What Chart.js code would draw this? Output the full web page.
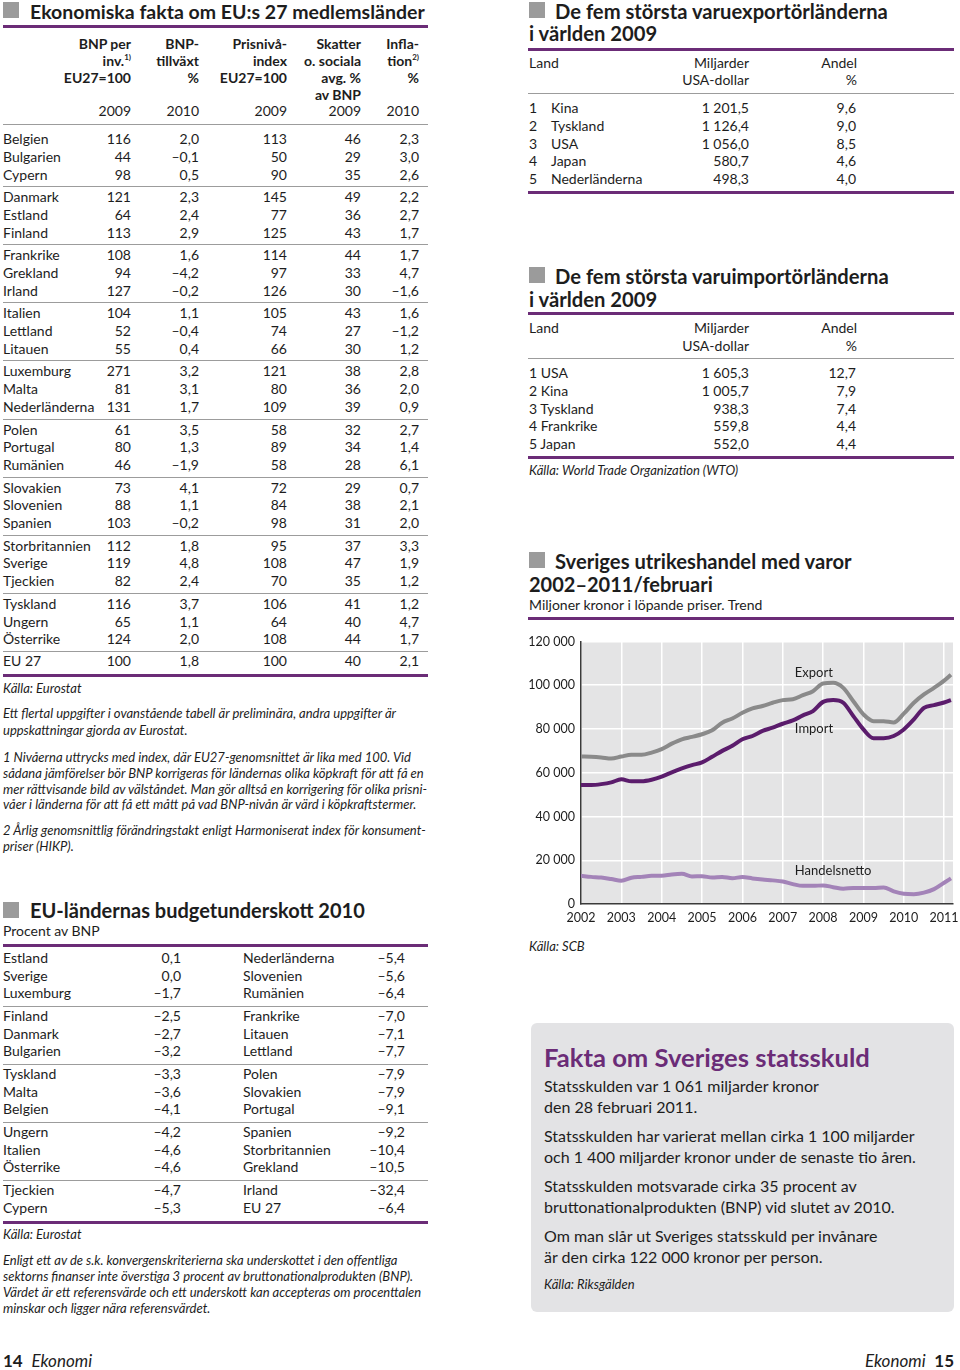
<!DOCTYPE html>
<html>
<head>
<meta charset="utf-8">
<script src="https://cdn.jsdelivr.net/npm/chart.js@4.4.1/dist/chart.umd.min.js"></script>
<style>
body { margin: 0; background: #fff; }
#page { position: relative; width: 960px; height: 1370px; overflow: hidden; font-family: Lato, "Noto Sans", sans-serif; font-size: 14px; color: #1d1d1d; }
.t { position: absolute; white-space: nowrap; }
.b { font-weight: bold; }
.i { font-style: italic; }
.hr { position: absolute; height: 1px; background: #9c9c9c; }
.pr { position: absolute; height: 3px; background: #6b2c77; }
.sq { position: absolute; width: 16px; height: 16px; background: #9b9b9b; }
sup { font-size: 8px; vertical-align: 6px; line-height: 0; }
#box { position: absolute; left: 531px; top: 1023px; width: 423px; height: 289px; background: #e3e3e5; border-radius: 6px; }
#chartWrap { position: absolute; left: 528px; top: 628px; width: 432px; height: 300px; }
</style>
</head>
<body>
<div id="page">
  <div id="box"></div>
  <div id="chartWrap"><canvas id="tradeChart"></canvas></div>
</div>
<script>
// ---- EU member table (2009/2010) ----
const countries = ["Belgien", "Bulgarien", "Cypern", "Danmark", "Estland", "Finland", "Frankrike", "Grekland", "Irland",
  "Italien", "Lettland", "Litauen", "Luxemburg", "Malta", "Nederländerna", "Polen", "Portugal", "Rumänien",
  "Slovakien", "Slovenien", "Spanien", "Storbritannien", "Sverige", "Tjeckien", "Tyskland", "Ungern", "Österrike", "EU 27"];
const bnpPerInv = [116, 44, 98, 121, 64, 113, 108, 94, 127, 104, 52, 55, 271, 81, 131, 61, 80, 46, 73, 88, 103, 112, 119, 82, 116, 65, 124, 100];
const bnpGrowth = [2.0, -0.1, 0.5, 2.3, 2.4, 2.9, 1.6, -4.2, -0.2, 1.1, -0.4, 0.4, 3.2, 3.1, 1.7, 3.5, 1.3, -1.9, 4.1, 1.1, -0.2, 1.8, 4.8, 2.4, 3.7, 1.1, 2.0, 1.8];
const priceIndex = [113, 50, 90, 145, 77, 125, 114, 97, 126, 105, 74, 66, 121, 80, 109, 58, 89, 58, 72, 84, 98, 95, 108, 70, 106, 64, 108, 100];
const taxShare = [46, 29, 35, 49, 36, 43, 44, 33, 30, 43, 27, 30, 38, 36, 39, 32, 34, 28, 29, 38, 31, 37, 47, 35, 41, 40, 44, 40];
const inflation = [2.3, 3.0, 2.6, 2.2, 2.7, 1.7, 1.7, 4.7, -1.6, 1.6, -1.2, 1.2, 2.8, 2.0, 0.9, 2.7, 1.4, 6.1, 0.7, 2.1, 2.0, 3.3, 1.9, 1.2, 1.2, 4.7, 1.7, 2.1];

// ---- Budget deficit 2010 ----
const budgetLeftNames = ["Estland", "Sverige", "Luxemburg", "Finland", "Danmark", "Bulgarien", "Tyskland", "Malta", "Belgien", "Ungern", "Italien", "Österrike", "Tjeckien", "Cypern"];
const budgetLeftValues = [0.1, 0.0, -1.7, -2.5, -2.7, -3.2, -3.3, -3.6, -4.1, -4.2, -4.6, -4.6, -4.7, -5.3];
const budgetRightNames = ["Nederländerna", "Slovenien", "Rumänien", "Frankrike", "Litauen", "Lettland", "Polen", "Slovakien", "Portugal", "Spanien", "Storbritannien", "Grekland", "Irland", "EU 27"];
const budgetRightValues = [-5.4, -5.6, -6.4, -7.0, -7.1, -7.7, -7.9, -7.9, -9.1, -9.2, -10.4, -10.5, -32.4, -6.4];

// ---- Top five exporters / importers 2009 ----
const exportLand = ["Kina", "Tyskland", "USA", "Japan", "Nederländerna"];
const exportValue = [1201.5, 1126.4, 1056.0, 580.7, 498.3];
const exportShare = [9.6, 9.0, 8.5, 4.6, 4.0];
const importLand = ["USA", "Kina", "Tyskland", "Frankrike", "Japan"];
const importValue = [1605.3, 1005.7, 938.3, 559.8, 552.0];
const importShare = [12.7, 7.9, 7.4, 4.4, 4.4];

// ---- Swedish foreign trade, trend, MSEK (quarterly readings) ----
const tradeX = [2002, 2002.25, 2002.5, 2002.75, 2003, 2003.25, 2003.5, 2003.75, 2004, 2004.25, 2004.5, 2004.75,
  2005, 2005.25, 2005.5, 2005.75, 2006, 2006.25, 2006.5, 2006.75, 2007, 2007.25, 2007.5, 2007.75,
  2008, 2008.25, 2008.5, 2008.75, 2009, 2009.25, 2009.5, 2009.75, 2010, 2010.25, 2010.5, 2010.75, 2011, 2011.17];
const exportSeries = [67400, 67300, 67000, 66500, 67400, 68200, 68200, 69200, 70800, 73300, 75300, 76400,
  77600, 79400, 82900, 84800, 87400, 89400, 90500, 92000, 93200, 93600, 95500, 97300,
  100800, 101100, 98800, 92700, 86700, 83600, 83600, 83000, 87000, 92000, 95800, 98800, 102100, 104800];
const importSeries = [54400, 54400, 54800, 55600, 57000, 56100, 56100, 56800, 58200, 60200, 62000, 63500,
  64700, 67300, 70000, 72300, 75300, 76800, 79100, 80600, 82400, 83900, 86200, 88200,
  92400, 93300, 92000, 85900, 79800, 75800, 75800, 76800, 79800, 84400, 89700, 90900, 92100, 93200];
const nettoSeries = [12900, 12400, 12100, 11400, 10600, 12000, 12400, 12900, 12900, 13500, 13800, 12600,
  12700, 12100, 12400, 11800, 12300, 11700, 11200, 10800, 10300, 9100, 8300, 8300,
  8500, 7700, 7000, 7300, 7300, 7300, 7600, 5800, 4700, 4500, 5200, 6800, 9700, 11700];
const yTicks = [0, 20000, 40000, 60000, 80000, 100000, 120000];

const page = document.getElementById("page");

function fmt(v, dec) {
  const s = Math.abs(v).toFixed(dec).split(".");
  const whole = s[0].replace(/\B(?=(\d{3})+(?!\d))/g, " ");
  return (v < 0 ? "–" : "") + whole + (dec ? "," + s[1] : "");
}

// place text with its vertical centre at y; align "r" means x is the right edge
function put(x, y, html, cls, align, size) {
  const fs = size || 14;
  const lh = Math.max(18, Math.round(fs * 1.1));
  const d = document.createElement("div");
  d.className = "t " + (cls || "");
  d.innerHTML = html;
  d.style.fontSize = fs + "px";
  d.style.lineHeight = lh + "px";
  d.style.top = Math.max(0, y - lh / 2) + "px";
  if (align === "r") d.style.right = (960 - x) + "px";
  else d.style.left = x + "px";
  page.appendChild(d);
  return d;
}
function rule(x1, x2, y, purple) {
  const d = document.createElement("div");
  d.className = purple ? "pr" : "hr";
  d.style.left = x1 + "px";
  d.style.width = (x2 - x1) + "px";
  d.style.top = (purple ? y - 1 : y) + "px";
  page.appendChild(d);
}
function square(x, y) {
  const d = document.createElement("div");
  d.className = "sq";
  d.style.left = x + "px";
  d.style.top = y + "px";
  page.appendChild(d);
}

// ===== Left: Ekonomiska fakta =====
square(3, 2);
put(30, 11, "Ekonomiska fakta om EU:s 27 medlemsländer", "b", null, 19.5);
rule(3, 428, 26, true);

const colRight = [131, 199, 287, 361, 419];
const heads = [
  ["BNP per", "inv.<sup>1)</sup>", "EU27=100"],
  ["BNP-", "tillväxt", "%"],
  ["Prisnivå-", "index", "EU27=100"],
  ["Skatter", "o. sociala", "avg. %", "av BNP"],
  ["Infla-", "tion<sup>2)</sup>", "%"]
];
const headYears = ["2009", "2010", "2009", "2009", "2010"];
heads.forEach((lines, c) => {
  lines.forEach((txt, k) => put(colRight[c], 44 + k * 17, txt, "b", "r"));
  put(colRight[c], 111, headYears[c], "", "r");
});
rule(3, 428, 124, false);

countries.forEach((name, i) => {
  const g = Math.floor(i / 3), r = i % 3;
  const y = i < 27 ? 139 + g * 58.1 + r * 17.75 : 661;
  put(3, y, name);
  put(colRight[0], y, fmt(bnpPerInv[i], 0), "", "r");
  put(colRight[1], y, fmt(bnpGrowth[i], 1), "", "r");
  put(colRight[2], y, fmt(priceIndex[i], 0), "", "r");
  put(colRight[3], y, fmt(taxShare[i], 0), "", "r");
  put(colRight[4], y, fmt(inflation[i], 1), "", "r");
});
for (let g = 1; g <= 9; g++) rule(3, 428, Math.round(139 + g * 58.1 - 11), false);
rule(3, 428, 675, true);
put(3, 688, "Källa: Eurostat", "i", null, 13);

const notes = [
  [713, "Ett flertal uppgifter i ovanstående tabell är preliminära, andra uppgifter är"],
  [730, "uppskattningar gjorda av Eurostat."],
  [757, "1 Nivåerna uttrycks med index, där EU27-genomsnittet är lika med 100. Vid"],
  [773, "sådana jämförelser bör BNP korrigeras för ländernas olika köpkraft för att få en"],
  [789, "mer rättvisande bild av välståndet. Man gör alltså en korrigering för olika prisni-"],
  [804, "våer i länderna för att få ett mått på vad BNP-nivån är värd i köpkraftstermer."],
  [830, "2 Årlig genomsnittlig förändringstakt enligt Harmoniserat index för konsument-"],
  [846, "priser (HIKP)."]
];
notes.forEach(n => put(3, n[0], n[1], "i", null, 13));

// ===== Left: budgetunderskott =====
square(3, 902);
put(30, 910, "EU-ländernas budgetunderskott 2010", "b", null, 20);
put(3, 931, "Procent av BNP");
rule(3, 428, 945, true);
budgetLeftNames.forEach((name, i) => {
  const g = Math.floor(i / 3), r = i % 3;
  const y = 958 + g * 58 + r * 17.7;
  put(3, y, name);
  put(181, y, fmt(budgetLeftValues[i], 1), "", "r");
  put(243, y, budgetRightNames[i]);
  put(405, y, fmt(budgetRightValues[i], 1), "", "r");
});
for (let g = 1; g <= 4; g++) rule(3, 428, Math.round(958 + g * 58 - 10), false);
rule(3, 428, 1222, true);
put(3, 1234, "Källa: Eurostat", "i", null, 13);
const budgetNotes = [
  [1260, "Enligt ett av de s.k. konvergenskriterierna ska underskottet i den offentliga"],
  [1276, "sektorns finanser inte överstiga 3 procent av bruttonationalprodukten (BNP)."],
  [1292, "Värdet är ett referensvärde och ett underskott kan accepteras om procenttalen"],
  [1308, "minskar och ligger nära referensvärdet."]
];
budgetNotes.forEach(n => put(3, n[0], n[1], "i", null, 13));

put(3, 1360, "<b>14</b>&nbsp; <i>Ekonomi</i>", "", null, 17);
put(954, 1360, "<i>Ekonomi</i>&nbsp; <b>15</b>", "", "r", 17);

// ===== Right: exporters =====
square(529, 2);
put(555, 11, "De fem största varuexportörländerna", "b", null, 20.2);
put(529, 33, "i världen 2009", "b", null, 20.2);
rule(528, 954, 49, true);
put(529, 63, "Land");
put(749, 63, "Miljarder", "", "r");
put(749, 80, "USA-dollar", "", "r");
put(857, 63, "Andel", "", "r");
put(857, 80, "%", "", "r");
rule(528, 954, 93, false);
exportLand.forEach((name, i) => {
  const y = 108 + i * 17.75;
  put(529, y, String(i + 1));
  put(551, y, name);
  put(749, y, fmt(exportValue[i], 1), "", "r");
  put(856, y, fmt(exportShare[i], 1), "", "r");
});
rule(528, 954, 192, true);

// ===== Right: importers =====
square(529, 267);
put(555, 276, "De fem största varuimportörländerna", "b", null, 20.2);
put(529, 299, "i världen 2009", "b", null, 20.2);
rule(528, 954, 313, true);
put(529, 328, "Land");
put(749, 328, "Miljarder", "", "r");
put(749, 346, "USA-dollar", "", "r");
put(857, 328, "Andel", "", "r");
put(857, 346, "%", "", "r");
rule(528, 954, 358, false);
importLand.forEach((name, i) => {
  const y = 373 + i * 17.75;
  put(529, y, (i + 1) + " " + name);
  put(749, y, fmt(importValue[i], 1), "", "r");
  put(856, y, fmt(importShare[i], 1), "", "r");
});
rule(528, 954, 457, true);
put(529, 470, "Källa: World Trade Organization (WTO)", "i", null, 13);

// ===== Right: chart heading =====
square(529, 552);
put(555, 561, "Sveriges utrikeshandel med varor", "b", null, 20.2);
put(529, 584, "2002–2011/februari", "b", null, 20);
put(529, 605, "Miljoner kronor i löpande priser. Trend");
rule(528, 954, 618, true);
put(529, 946, "Källa: SCB", "i", null, 13);

// ===== Fakta box =====
put(544, 1057, "Fakta om Sveriges statsskuld", "b", null, 25.6).style.color = "#6b2c77";
const facts = [
  [1086, "Statsskulden var 1 061 miljarder kronor"],
  [1107, "den 28 februari 2011."],
  [1136, "Statsskulden har varierat mellan cirka 1 100 miljarder"],
  [1157, "och 1 400 miljarder kronor under de senaste tio åren."],
  [1186, "Statsskulden motsvarade cirka 35 procent av"],
  [1207, "bruttonationalprodukten (BNP) vid slutet av 2010."],
  [1236, "Om man slår ut Sveriges statsskuld per invånare"],
  [1257, "är den cirka 122 000 kronor per person."]
];
facts.forEach(f => put(544, f[0], f[1], "", null, 16));
put(544, 1284, "Källa: Riksgälden", "i", null, 13);

// ===== Chart =====
const seriesLabels = [
  { text: "Export", x: 2007.3, y: 105900 },
  { text: "Import", x: 2007.3, y: 80000 },
  { text: "Handelsnetto", x: 2007.3, y: 15000 }
];

const plotBackground = {
  id: "plotBackground",
  beforeDraw(chart) {
    const { ctx, chartArea: a } = chart;
    ctx.save();
    ctx.fillStyle = "#e4e4e5";
    ctx.fillRect(a.left, a.top, a.right - a.left, a.bottom - a.top);
    ctx.restore();
  }
};
const lineLabels = {
  id: "lineLabels",
  afterDatasetsDraw(chart) {
    const { ctx, scales } = chart;
    ctx.save();
    ctx.font = "13px Lato, sans-serif";
    ctx.fillStyle = "#1d1d1d";
    ctx.textBaseline = "middle";
    seriesLabels.forEach(l => ctx.fillText(l.text, scales.x.getPixelForValue(l.x), scales.y.getPixelForValue(l.y)));
    ctx.restore();
  }
};

const pts = arr => arr.map((v, i) => ({ x: tradeX[i], y: v }));
const lineStyle = { borderWidth: 4, pointRadius: 0, tension: 0.4, cubicInterpolationMode: "monotone", fill: false };

new Chart(document.getElementById("tradeChart"), {
  type: "line",
  data: {
    datasets: [
      { label: "Handelsnetto", data: pts(nettoSeries), borderColor: "#a383b8", ...lineStyle },
      { label: "Export", data: pts(exportSeries), borderColor: "#8a8a8a", ...lineStyle },
      { label: "Import", data: pts(importSeries), borderColor: "#5b1c6c", ...lineStyle }
    ]
  },
  options: {
    responsive: true,
    maintainAspectRatio: false,
    animation: false,
    layout: { padding: { top: 12, right: 7, left: 0, bottom: 0 } },
    plugins: { legend: { display: false }, tooltip: { enabled: false } },
    scales: {
      x: {
        type: "linear",
        min: 2002,
        max: 2011.22,
        afterFit: s => { s.height = 24; s.paddingRight = 0; s.paddingLeft = 0; },
        border: { display: true, color: "#3a3a3a", width: 1.5 },
        grid: { color: "#ffffff", lineWidth: 1.5, drawTicks: false },
        ticks: {
          stepSize: 1,
          includeBounds: false,
          padding: 6,
          color: "#1d1d1d",
          font: { family: "Lato", size: 12.5 },
          callback: v => String(v)
        }
      },
      y: {
        min: 0,
        max: 120000,
        afterFit: s => { s.width = 53; },
        afterBuildTicks: s => { s.ticks = yTicks.map(v => ({ value: v })); },
        border: { display: true, color: "#3a3a3a", width: 1.5 },
        grid: { color: "#ffffff", lineWidth: 1.5, drawTicks: false },
        ticks: {
          padding: 6,
          color: "#1d1d1d",
          font: { family: "Lato", size: 12.5 },
          callback: v => fmt(v, 0)
        }
      }
    }
  },
  plugins: [plotBackground, lineLabels]
});
</script>
</body>
</html>
